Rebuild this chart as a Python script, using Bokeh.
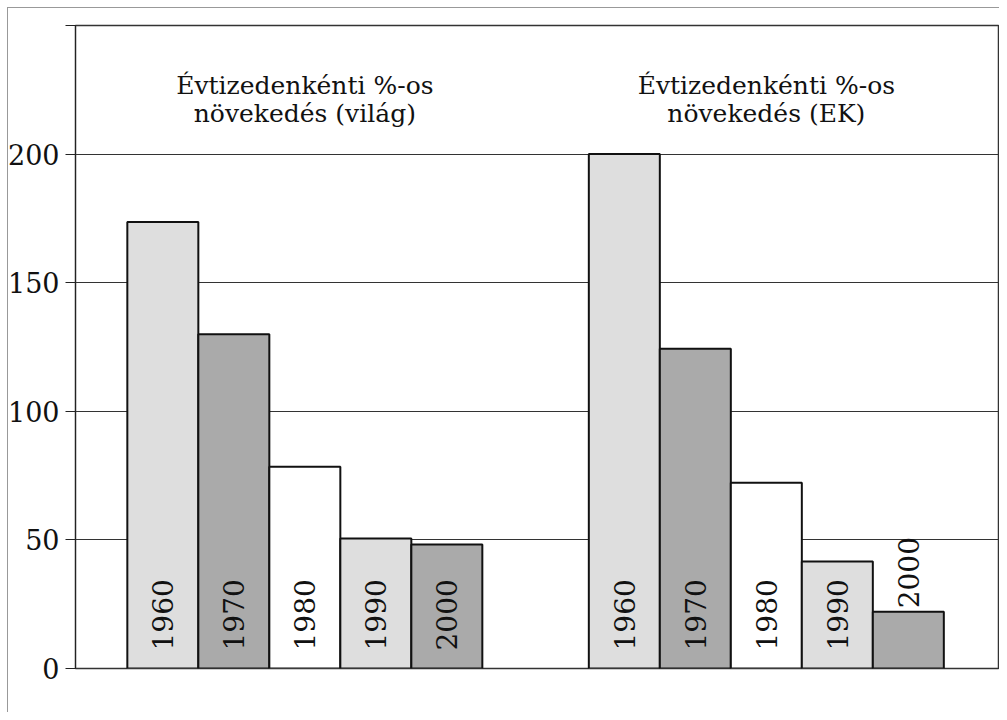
import math
from bokeh.plotting import figure
from bokeh.models import Range1d, FixedTicker, ColumnDataSource
from bokeh.core.properties import value
from bokeh.embed import file_html
from bokeh.resources import INLINE

# ---- data ----
years = ["1960", "1970", "1980", "1990", "2000"]
world_growth = [173.6, 130.0, 78.4, 50.5, 48.2]
uk_growth = [200.0, 124.3, 72.2, 41.6, 22.1]
bar_colors = ["#dedede", "#aaaaaa", "#ffffff", "#dedede", "#aaaaaa"]
title_world = ["Évtizedenkénti %-os", "növekedés (világ)"]
title_uk = ["Évtizedenkénti %-os", "növekedés (EK)"]
y_ticks = [0, 50, 100, 150, 200, 250]

FONT = "DejaVu Serif"
GROUP_OFFSET = 6.5

p = figure(width=999, height=712, output_backend="svg", toolbar_location=None,
           x_range=Range1d(-1.23, 11.77), y_range=Range1d(0, 250),
           min_border_left=75, min_border_top=25, min_border_bottom=44,
           min_border_right=1)

# bars
xs, tops, cols, lab_x, lab_y, lab_t = [], [], [], [], [], []
for g, vals in enumerate([world_growth, uk_growth]):
    for i, (yr, v) in enumerate(zip(years, vals)):
        cx = g * GROUP_OFFSET + i
        xs.append(cx)
        tops.append(v)
        cols.append(bar_colors[i])
        lab_x.append(cx)
        lab_y.append(7 if v > 30 else v + 1.3)
        lab_t.append(yr)

src = ColumnDataSource(dict(x=xs, top=tops, color=cols))
p.vbar(x="x", top="top", bottom=0, width=1.0, fill_color="color",
       line_color="#111111", line_width=2, source=src)

p.text(x=lab_x, y=lab_y, text=lab_t, angle=math.pi / 2, text_align="left",
       text_baseline="middle", text_font=value(FONT), text_font_size="28px",
       text_color="#111111")

# titles
for g, lines in enumerate([title_world, title_uk]):
    cx = g * GROUP_OFFSET + 2.0
    p.text(x=[cx, cx], y=[226.8, 215.8], text=lines, text_align="center",
           text_baseline="middle", text_font=value(FONT), text_font_size="25px",
           text_color="#111111")

# axes / grid
p.xaxis.visible = False
p.xgrid.visible = False
p.ygrid.ticker = FixedTicker(ticks=y_ticks)
p.ygrid.grid_line_color = "#333333"
p.ygrid.grid_line_width = 1
p.ygrid.level = "underlay"
ax = p.yaxis[0]
ax.ticker = FixedTicker(ticks=y_ticks)
ax.major_label_overrides = {250: ""}
ax.major_tick_out = 10
ax.major_tick_in = 0
ax.minor_tick_out = 0
ax.minor_tick_in = 0
ax.axis_line_color = "#222222"
ax.major_tick_line_color = "#222222"
ax.major_label_text_font = FONT
ax.major_label_text_font_size = "27px"
ax.major_label_text_color = "#111111"
ax.major_label_standoff = 6

p.outline_line_color = "#333333"
p.outline_line_width = 1.5
p.background_fill_color = "white"
p.border_fill_alpha = 0
p.styles = {
    "background": "linear-gradient(#999999,#999999) 7px 7px / 1px 100% no-repeat, "
                  "linear-gradient(#999999,#999999) 7px 7px / 100% 1px no-repeat, white"
}

open("out.html", "w").write(file_html(p, INLINE))
